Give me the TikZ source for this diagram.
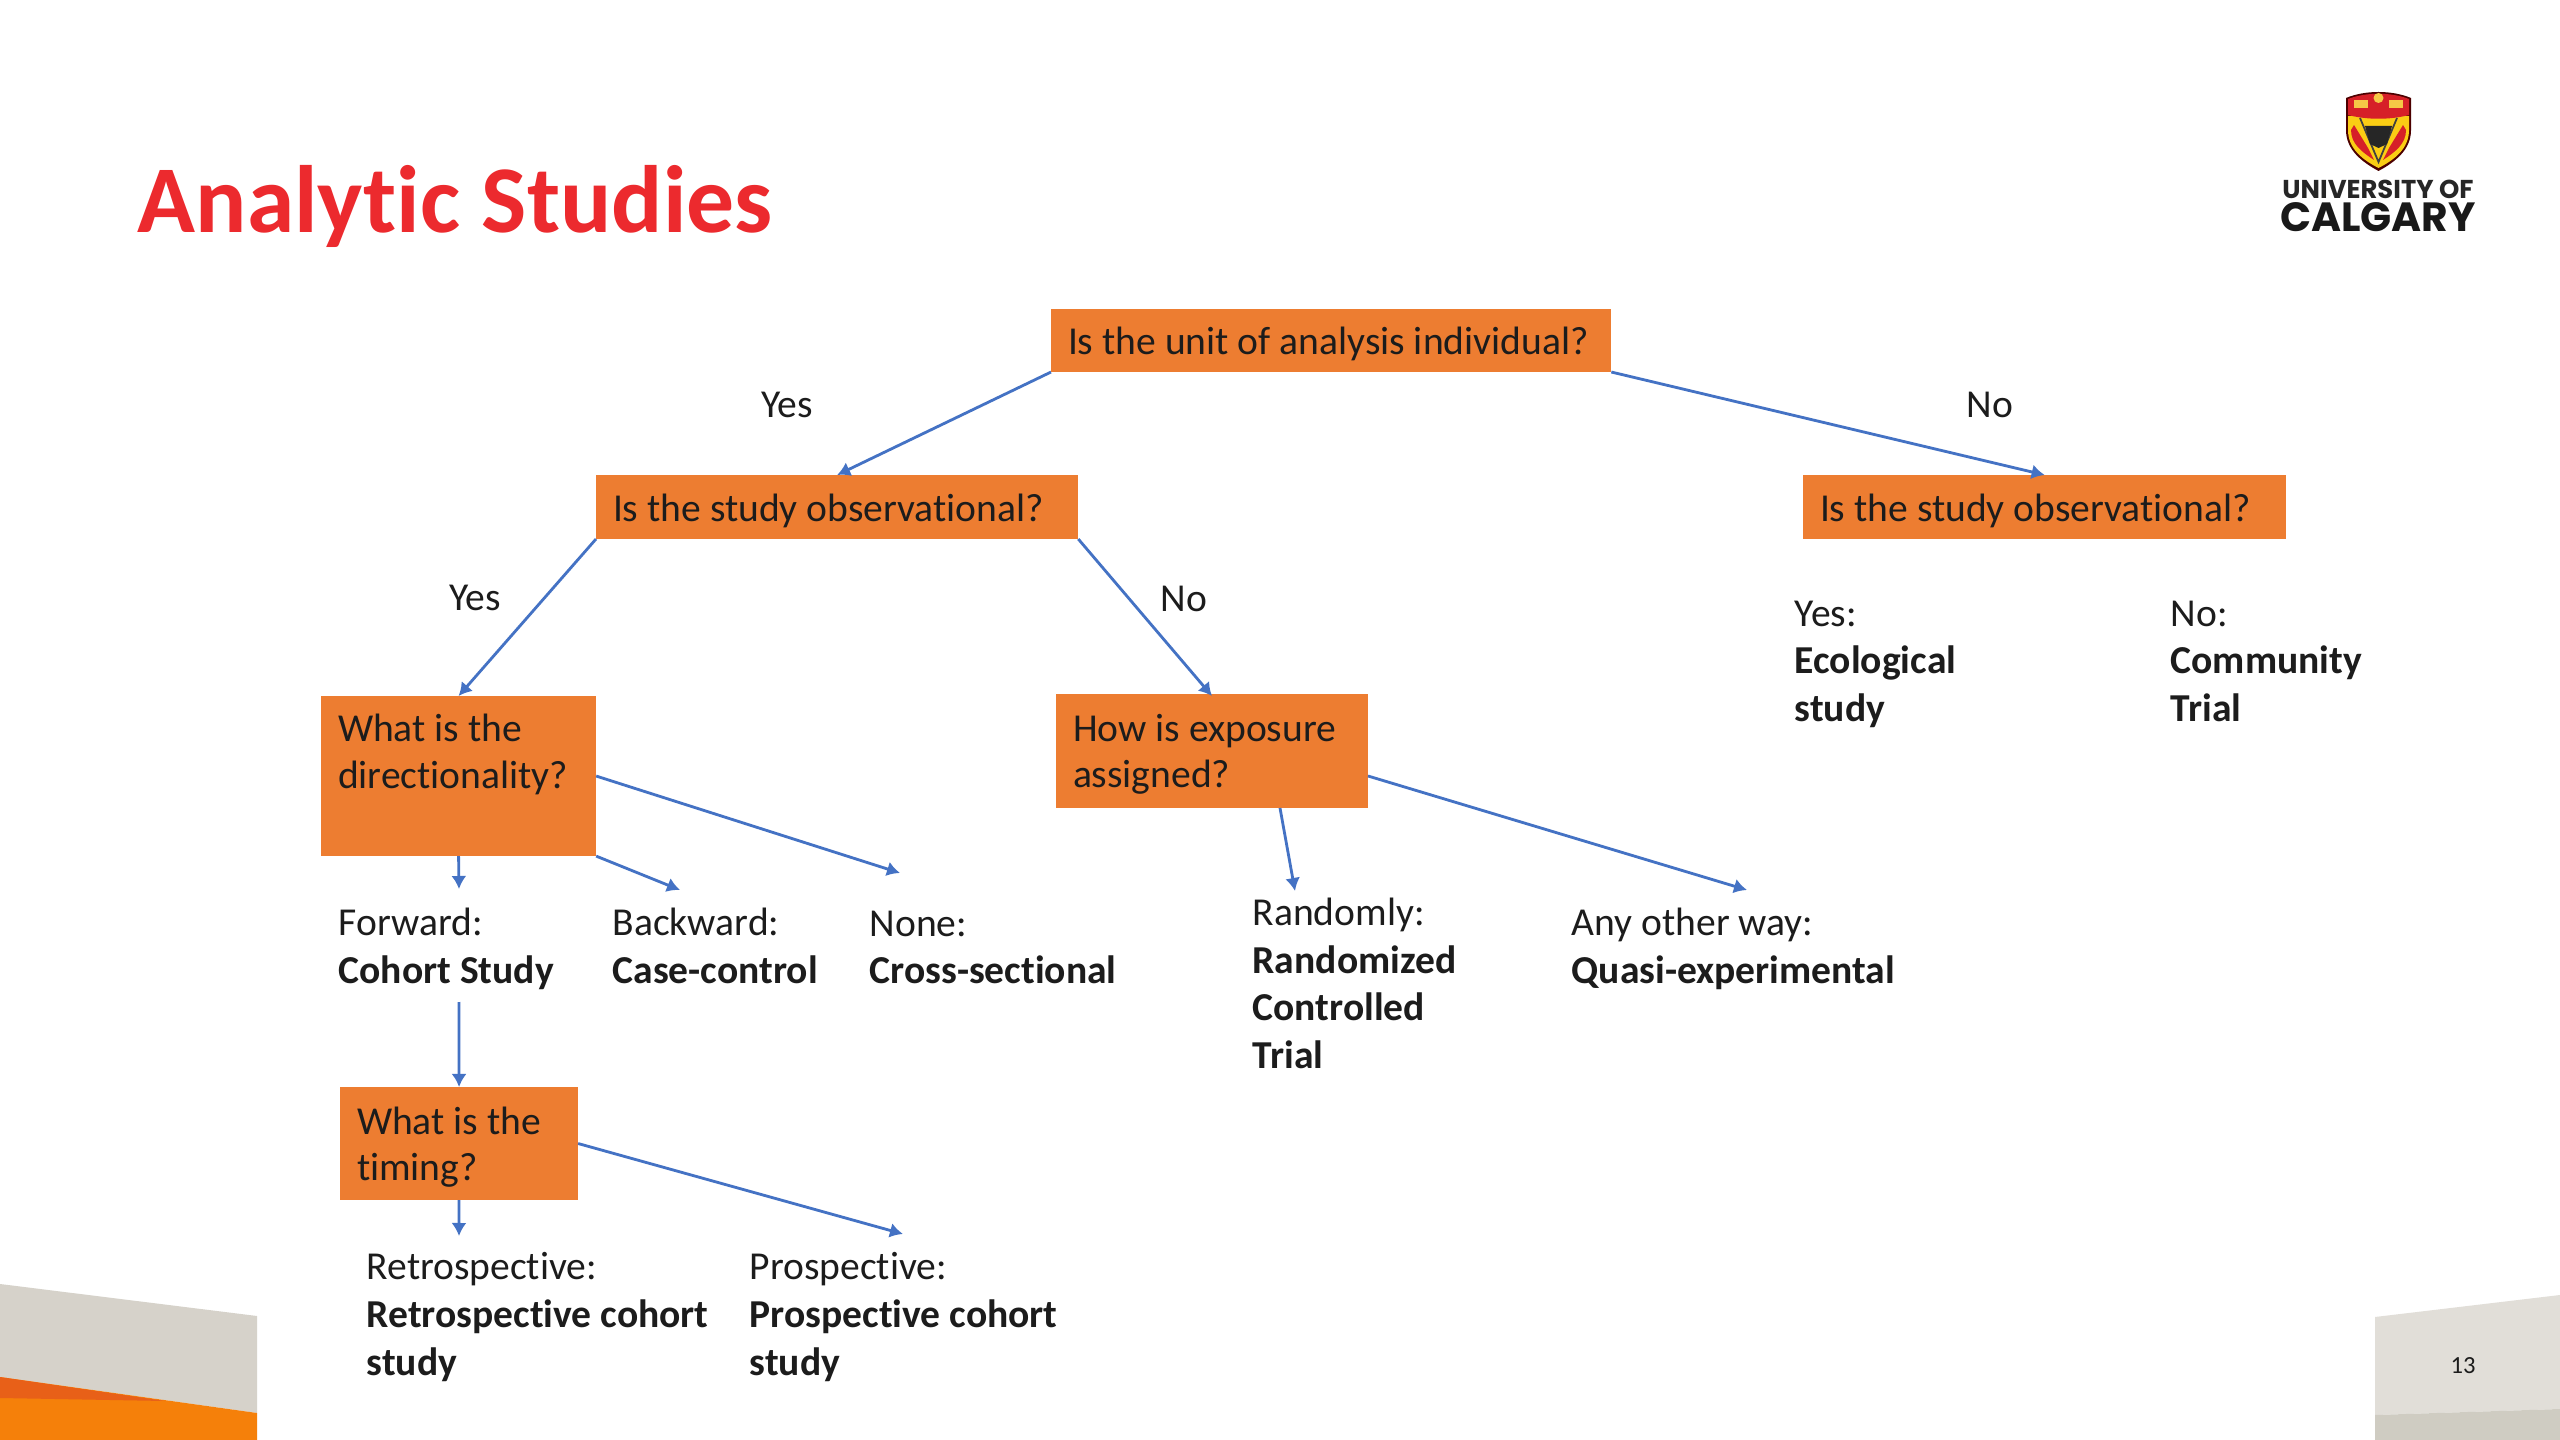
\documentclass[tikz,border=0pt]{standalone}
\usepackage{fontspec}
\setmainfont[Ligatures=CommonOff]{Carlito}
\newfontfamily\logofont{Poppins}
\usepackage{xcolor}
\usetikzlibrary{arrows.meta}
\definecolor{laranja}{HTML}{ED7D31}
\definecolor{azul}{HTML}{4472C4}
\definecolor{vermelho}{HTML}{EC2A2E}
\definecolor{texto}{HTML}{1C1C1C}
\tikzset{
  questao/.style 2 args={fill=laranja, anchor=north west, outer sep=0pt, inner ysep=0pt, inner xsep=0.17cm, text width=#1cm-0.34cm, minimum height=#2cm, align=flush left, text=texto, font=\fontsize{11.25pt}{13.2pt}\selectfont, execute at begin node=\rule{0pt}{10pt}},
  resposta/.style={anchor=north west, inner sep=0pt, align=left, text=texto, font=\fontsize{11.25pt}{13.6pt}\selectfont, execute at begin node=\strut},
  ramo/.style={anchor=center, inner sep=0pt, text=texto, font=\fontsize{11.25pt}{13.6pt}\selectfont},
  seta/.style={-{Latex[length=0.13cm,width=0.15cm]}, draw=azul, line width=0.8pt},
}

\begin{document}
\begin{tikzpicture}[x=0.01cm, y=-0.01cm]
  \useasboundingbox (0,0) rectangle (2560,1440);

  % slide corners
  \fill[fill=white] (0,0) rectangle (2560,1440);
  \fill[fill={rgb,255:red,214;green,210;blue,202}] (0,1284) -- (257,1316) -- (257,1413) -- (0,1377) -- cycle;
  \fill[fill={rgb,255:red,245;green,128;blue,10}] (0,1377) -- (257,1413) -- (257,1440) -- (0,1440) -- cycle;
  \fill[fill={rgb,255:red,232;green,96;blue,24}] (0,1377) -- (165,1401) -- (0,1398) -- cycle;
  \fill[fill={rgb,255:red,225;green,222;blue,216}] (2375,1317) -- (2560,1295) -- (2560,1409) -- (2375,1415) -- cycle;
  \fill[fill={rgb,255:red,207;green,204;blue,194}] (2375,1415) -- (2560,1409) -- (2560,1440) -- (2375,1440) -- cycle;
  \node[inner sep=0pt, font=\fontsize{7pt}{8pt}\selectfont, text=texto] (pagina) at (2463,1366) {13};

  % logo
  \fill[fill=black!70!red] (2346,98) .. controls (2365,90) and (2392,90) .. (2411,98) -- (2411,130) .. controls (2411,150) and (2395,162) .. (2378.5,171) .. controls (2362,162) and (2346,150) .. (2346,130) -- cycle;
  \fill[fill={rgb,255:red,250;green,205;blue,20}] (2348,116) -- (2409,116) -- (2409,130) .. controls (2409,149) and (2394,160) .. (2378.5,168) .. controls (2363,160) and (2348,149) .. (2348,130) -- cycle;
  \fill[fill={rgb,255:red,214;green,32;blue,40}] (2348,99) .. controls (2366,92) and (2391,92) .. (2409,99) -- (2409,115) .. controls (2390,120) and (2367,120) .. (2348,115) -- cycle;
  \fill[fill={rgb,255:red,214;green,32;blue,40}] (2354,125) -- (2368,148) -- (2374,160) .. controls (2362,152) and (2351,144) .. (2351,130) -- cycle;
  \fill[fill={rgb,255:red,214;green,32;blue,40}] (2403,125) -- (2389,148) -- (2383,160) .. controls (2395,152) and (2406,144) .. (2406,130) -- cycle;
  \draw[line width=0.5pt, draw=black!75] (2360,118) -- (2378.5,162) -- (2397,118);
  \fill[fill=black!85] (2365,126) -- (2392,126) -- (2387,144) -- (2378.5,148) -- (2370,144) -- cycle;
  \fill[fill={rgb,255:red,245;green,200;blue,70}] (2354,100) rectangle (2368,108);
  \fill[fill={rgb,255:red,245;green,200;blue,70}] (2389,100) rectangle (2403,108);
  \fill[fill={rgb,255:red,245;green,200;blue,70}] (2378.5,98) circle (5);
  \node[inner sep=0pt, anchor=center, text=black!85, font=\logofont\bfseries\fontsize{7.35pt}{8pt}\selectfont] (logoA) at (2378,189) {UNIVERSITY OF};
  \node[inner sep=0pt, anchor=center, text=black!90, font=\logofont\bfseries\fontsize{11.6pt}{14pt}\selectfont] (logoB) at (2378,217) {CALGARY};

  % titulo
  \node[anchor=west, inner sep=0pt, text=vermelho, font=\fontsize{27.2pt}{32pt}\selectfont\bfseries] (titulo) at (137,206) {Analytic Studies};

  % caixas
  \node[questao={5.60}{0.63}] (raiz) at (1051,309) {Is the unit of analysis individual?};
  \node[questao={4.82}{0.64}] (obsA) at (596,475) {Is the study observational?};
  \node[questao={4.83}{0.64}] (obsB) at (1803,475) {Is the study observational?};
  \node[questao={2.75}{1.60}] (direcao) at (321,696) {What is the\\directionality?\\\rule[-3pt]{0pt}{3pt}};
  \node[questao={3.12}{1.12}] (expo) at (1056,694) {How is exposure\\assigned?};
  \fill[laranja] (expo.south west) rectangle ++(312,2);
  \node[questao={2.38}{1.13}] (tempo) at (340,1087) {What is the\\timing?};

  % ramos
  \node[ramo] (simA) at (787,405) {Yes};
  \node[ramo] (naoA) at (1990,405) {No};
  \node[ramo] (simB) at (475,598) {Yes};
  \node[ramo] (naoB) at (1184,599) {No};

  % respostas
  \node[resposta] (fwd) at (338,907) {Forward:\\\textbf{Cohort Study}};
  \node[resposta] (bwd) at (612,907) {Backward:\\\textbf{Case-control}};
  \node[resposta] (nenhum) at (869,910) {None:\\\textbf{Cross-sectional}};
  \node[resposta] (rand) at (1252,897) {Randomly:\\\textbf{Randomized}\\\textbf{Controlled}\\\textbf{Trial}};
  \node[resposta] (outra) at (1571,907) {Any other way:\\\textbf{Quasi-experimental}};
  \node[resposta] (ecol) at (1794,600) {Yes:\\\textbf{Ecological}\\\textbf{study}};
  \node[resposta] (comu) at (2170,600) {No:\\\textbf{Community}\\\textbf{Trial}};
  \node[resposta] (retro) at (366,1252) {Retrospective:\\\textbf{Retrospective cohort}\\\textbf{study}};
  \node[resposta] (pros) at (749,1252) {Prospective:\\\textbf{Prospective cohort}\\\textbf{study}};

  % pontas livres
  \coordinate (pFwd) at (459,889);
  \coordinate (pBwd) at (680,890);
  \coordinate (pNone) at (900,873);
  \coordinate (sFwd) at (459,1002);
  \coordinate (sExpA) at (1280,808);
  \coordinate (pRand) at (1295,891);
  \coordinate (sExpB) at (1368,776);
  \coordinate (pOutra) at (1747,890);
  \coordinate (pRetro) at (459,1236);
  \coordinate (pPros) at (903,1234);
  \coordinate (tExpo) at (1212,696);

  % setas
  \draw[seta] (raiz.south west) -- (obsA.north);
  \draw[seta] (raiz.south east) -- (obsB.north);
  \draw[seta] (obsA.south west) -- (direcao.north);
  \draw[seta] (obsA.south east) -- (tExpo);
  \draw[seta] (direcao.south) -- (pFwd);
  \draw[seta] (direcao.south east) -- (pBwd);
  \draw[seta] (direcao.east) -- (pNone);
  \draw[seta] (sFwd) -- (tempo.north);
  \draw[seta] (sExpA) -- (pRand);
  \draw[seta] (sExpB) -- (pOutra);
  \draw[seta] (tempo.south) -- (pRetro);
  \draw[seta] (tempo.east) -- (pPros);
\end{tikzpicture}
\end{document}
